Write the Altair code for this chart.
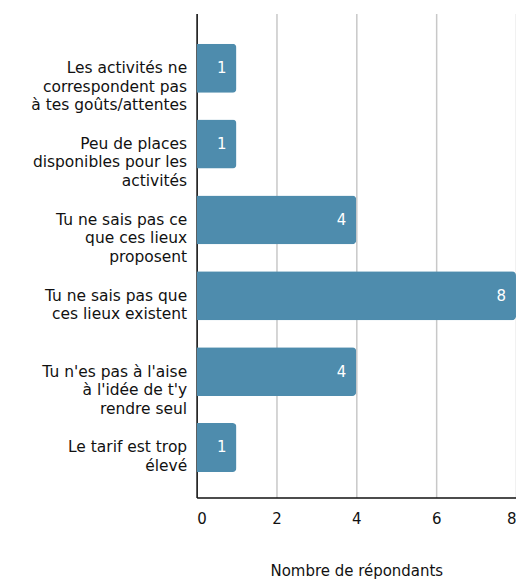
import altair as alt
import pandas as pd

categories = [
    "Les activités ne|correspondent pas|à tes goûts/attentes",
    "Peu de places|disponibles pour les|activités",
    "Tu ne sais pas ce|que ces lieux|proposent",
    "Tu ne sais pas que|ces lieux existent",
    "Tu n'es pas à l'aise|à l'idée de t'y|rendre seul",
    "Le tarif est trop|élevé",
]
values = [1, 1, 4, 8, 4, 1]
x_ticks = [0, 2, 4, 6, 8]

df = pd.DataFrame({"cat": categories, "val": values})

FONT = "DejaVu Sans"
BAR = "#4e8cad"

y_enc = alt.Y(
    "cat:N",
    sort=categories,
    scale=alt.Scale(paddingInner=0.355, paddingOuter=0.368, align=0.54),
    axis=alt.Axis(
        title=None,
        labelExpr="split(datum.label, '|')",
        labelFont=FONT,
        labelFontSize=15.5,
        labelLineHeight=18.5,
        labelColor="#111111",
        labelAlign="right",
        labelBaseline="middle",
        labelPadding=10,
        labelLimit=0,
        ticks=False,
        domainColor="#111111",
        domainWidth=1.5,
        grid=False,
        minExtent=184,
        maxExtent=184,
    ),
)

x_enc = alt.X(
    "val:Q",
    scale=alt.Scale(domain=[0, 8], nice=False),
    axis=alt.Axis(
        values=x_ticks,
        title="Nombre de répondants",
        titleFont=FONT,
        titleFontSize=15,
        titleFontWeight="normal",
        titleColor="#111111",
        titlePadding=37,
        labelFont=FONT,
        labelFontSize=15,
        labelColor="#111111",
        labelPadding=14,
        ticks=False,
        tickSize=0,
        domainColor="#111111",
        domainWidth=1.5,
        grid=True,
        gridColor="#c8c8c8",
        gridWidth=1.5,
    ),
)

bars = alt.Chart(df).mark_bar(color=BAR, cornerRadiusEnd=4).encode(x=x_enc, y=y_enc)

labels = alt.Chart(df).mark_text(
    align="right", baseline="middle", dx=-10, color="white", font=FONT, fontSize=15
).encode(x="val:Q", y=alt.Y("cat:N", sort=categories), text="val:Q")

chart = (
    alt.layer(bars, labels)
    .properties(
        width=320,
        height=485,
        padding={"left": 5, "top": 5, "right": 0, "bottom": 0},
        background="white",
    )
    .configure_view(stroke=None)
)

chart.save("out.html", embed_options={"renderer": "svg", "actions": False})
